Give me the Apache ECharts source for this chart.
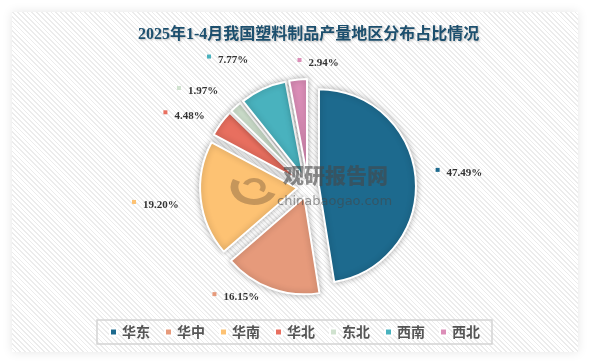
<!DOCTYPE html>
<html>
<head>
<meta charset="utf-8">
<script src="https://cdn.jsdelivr.net/npm/echarts@6/dist/echarts.min.js"></script>
<style>
  html, body { margin: 0; padding: 0; background: #ffffff; }
  #card {
    position: absolute; left: 12px; top: 12px; width: 566px; height: 340px;
    background-color: #ffffff;
    background-image: repeating-linear-gradient(45deg, #ffffff 0px, #ffffff 2.2px, #ececec 2.2px, #ececec 3.4px);
    box-shadow: 0 0 10px rgba(0,0,0,0.10);
  }
  #chart { position: absolute; left: 0; top: 0; width: 589px; height: 363px; }
</style>
</head>
<body>
<div id="card"></div>
<div id="chart"></div>
<script>
var titleText = '2025年1-4月我国塑料制品产量地区分布占比情况';
var categories = ['华东', '华中', '华南', '华北', '东北', '西南', '西北'];
var values = [47.49, 16.15, 19.20, 4.48, 1.97, 7.77, 2.94];
var colors = ['#1d6a8e', '#e69a7b', '#fdc273', '#e86f5f', '#d0e2cf', '#49b2be', '#dc8eb8'];
// small label nudges (pixels) relative to the library's outside-label layout
var labelNudgeX = [-5, 4, 3, 6, 3, 2, 53];
var labelNudgeY = [-4, -4, 5, 1, -5, -16, -2];

var chart = echarts.init(document.getElementById('chart'), null, { renderer: 'canvas' });

var data = categories.map(function (name, i) {
  return {
    name: name,
    value: values[i],
    selected: true,
    label: {
      rich: {
        m: { width: 4, height: 4, backgroundColor: colors[i], verticalAlign: 'top' }
      }
    }
  };
});

var option = {
  backgroundColor: 'transparent',
  color: colors,
  animation: false,
  title: {
    text: titleText,
    left: 133,
    top: 22,
    textStyle: {
      fontSize: 16,
      fontWeight: 'bold',
      color: '#1c4f6e',
      fontFamily: '"Liberation Serif", "Noto Sans CJK SC", serif',
      textShadowColor: 'rgba(0,0,0,0.25)',
      textShadowBlur: 2,
      textShadowOffsetX: 1,
      textShadowOffsetY: 1
    }
  },
  legend: {
    bottom: 19,
    left: 'center',
    icon: 'rect',
    itemWidth: 7,
    itemHeight: 7,
    itemGap: 14,
    padding: [5, 12, 5, 12],
    borderColor: '#d4d4d4',
    borderWidth: 1.5,
    textStyle: {
      fontSize: 14,
      fontWeight: 'bold',
      color: '#555555',
      fontFamily: '"Noto Sans CJK SC", sans-serif'
    },
    data: categories
  },
  graphic: [
    {
      type: 'text',
      left: 283, top: 165,
      style: {
        text: '观研报告网',
        fill: 'rgba(70,70,70,0.6)',
        font: '900 21px "Noto Sans CJK SC", sans-serif'
      },
      z: 100
    },
    {
      type: 'text',
      left: 277, top: 195,
      style: {
        text: 'chinabaogao.com',
        fill: 'rgba(70,70,70,0.55)',
        font: '13px "DejaVu Sans", sans-serif'
      },
      z: 100
    },
    {
      type: 'arc',
      shape: { cx: 254, cy: 187, r: 15, startAngle: 0.4, endAngle: 3.6 },
      scaleX: 1.3, originX: 254, originY: 187,
      style: { fill: 'none', stroke: 'rgba(160,120,75,0.6)', lineWidth: 6 },
      z: 100
    },
    {
      type: 'arc',
      shape: { cx: 254, cy: 187, r: 7, startAngle: 3.5, endAngle: 6.9 },
      scaleX: 1.3, originX: 254, originY: 187,
      style: { fill: 'none', stroke: 'rgba(160,120,75,0.6)', lineWidth: 4 },
      z: 100
    }
  ],
  series: [
    {
      type: 'pie',
      center: [308, 187],
      radius: [0, 97],
      startAngle: 90,
      clockwise: true,
      selectedMode: 'multiple',
      selectedOffset: 11,
      avoidLabelOverlap: false,
      itemStyle: {
        borderColor: '#ffffff',
        borderWidth: 2,
        shadowColor: 'rgba(0,0,0,0.3)',
        shadowBlur: 6
      },
      emphasis: { disabled: true },
      label: {
        show: true,
        position: 'outside',
        formatter: function (p) { return '{m|}{v|' + p.value.toFixed(2) + '%}'; },
        rich: {
          v: {
            fontSize: 11,
            fontWeight: 'bold',
            color: '#333333',
            fontFamily: '"Liberation Serif", serif',
            padding: [0, 0, 0, 7]
          }
        }
      },
      labelLine: { show: false, length: 14, length2: 6 },
      labelLayout: function (p) {
        return { hideOverlap: false, moveOverlap: false, dx: labelNudgeX[p.dataIndex], dy: labelNudgeY[p.dataIndex] };
      },
      data: data
    }
  ]
};
chart.setOption(option);
</script>
</body>
</html>
